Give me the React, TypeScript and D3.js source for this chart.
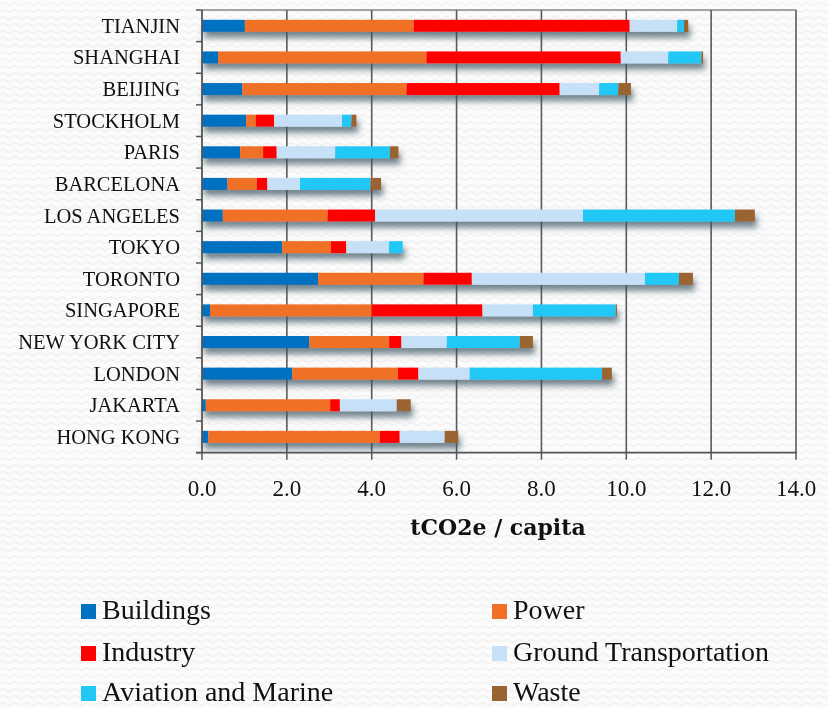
import React from 'react';
import * as d3 from 'd3';

const cities = ['TIANJIN', 'SHANGHAI', 'BEIJING', 'STOCKHOLM', 'PARIS', 'BARCELONA', 'LOS ANGELES', 'TOKYO', 'TORONTO', 'SINGAPORE', 'NEW YORK CITY', 'LONDON', 'JAKARTA', 'HONG KONG'];
const buildings = [1.01, 0.38, 0.95, 1.04, 0.90, 0.60, 0.49, 1.89, 2.74, 0.19, 2.53, 2.13, 0.09, 0.15];
const power = [3.98, 4.91, 3.87, 0.23, 0.54, 0.69, 2.47, 1.15, 2.48, 3.81, 1.88, 2.49, 2.93, 4.04];
const industry = [5.09, 4.58, 3.61, 0.43, 0.32, 0.25, 1.12, 0.36, 1.14, 2.61, 0.29, 0.48, 0.23, 0.47];
const groundTransport = [1.12, 1.12, 0.93, 1.60, 1.38, 0.77, 4.90, 1.01, 4.08, 1.19, 1.07, 1.21, 1.34, 1.06];
const aviationMarine = [0.16, 0.78, 0.45, 0.22, 1.29, 1.66, 3.58, 0.32, 0.80, 1.95, 1.72, 3.12, 0.0, 0.0];
const waste = [0.10, 0.04, 0.30, 0.12, 0.20, 0.25, 0.47, 0.0, 0.33, 0.03, 0.31, 0.23, 0.33, 0.32];

const seriesNames = ['Buildings', 'Power', 'Industry', 'Ground Transportation', 'Aviation and Marine', 'Waste'];
const seriesColors = ['#0070C0', '#F07028', '#FF0000', '#C6E0F7', '#22C8F5', '#9A6432'];
const xTicks = [0, 2, 4, 6, 8, 10, 12, 14];
const axisTitle = 'tCO2e / capita';

const FONT = "'Liberation Serif', 'DejaVu Serif', serif";
const FONT_WIDE = "'DejaVu Serif', 'Liberation Serif', serif";

export default function App() {
  const width = 828;
  const height = 708;
  const x = d3.scaleLinear().domain([0, 14]).range([202, 796]);
  const y = d3.scaleBand<string>().domain(cities).range([10, 452.7]).paddingInner(0.62).paddingOuter(0.31);
  const seriesArrays = [buildings, power, industry, groundTransport, aviationMarine, waste];
  const rows = cities.map((c, i) => {
    const r: Record<string, any> = { city: c };
    seriesNames.forEach((s, k) => { r[s] = seriesArrays[k][i]; });
    return r;
  });
  const stacked = d3.stack<any>().keys(seriesNames)(rows);
  const step = y.step();
  const [yTop, yBot] = [10, 452.7];

  const legendCols = [81, 492];
  const legendTextX = [102, 513];
  const legendRows = [619, 661, 701];

  return (
    <div style={{ position: 'fixed', left: 0, top: 0 }}>
      <svg width={width} height={height} style={{ display: 'block' }}>
        <defs>
          <pattern id="wave" width="12" height="7" patternUnits="userSpaceOnUse">
            <rect width="12" height="7" fill="#fbfbfb" />
            <path d="M0 4 Q3 1 6 4 T12 4" stroke="#ececec" strokeWidth="1" fill="none" />
          </pattern>
          <filter id="shadow" x="-5%" y="-50%" width="115%" height="280%">
            <feDropShadow dx="2" dy="6" stdDeviation="3" floodColor="#38525f" floodOpacity="0.7" />
          </filter>
        </defs>
        <rect width={width} height={height} fill="url(#wave)" />

        {/* frame */}
        <line x1={x(0)} x2={x(14)} y1={yTop} y2={yTop} stroke="#888" strokeWidth={1.5} />
        {/* gridlines */}
        {xTicks.slice(1).map(t => (
          <line key={t} x1={x(t)} x2={x(t)} y1={yTop} y2={yBot} stroke="#5a5a5a" strokeWidth={1.6} />
        ))}

        {/* bars */}
        <g filter="url(#shadow)">
          {stacked.map((s, k) => (
            <g key={s.key} fill={seriesColors[k]}>
              {s.map((d, i) => (
                d[1] - d[0] > 0 ? (
                  <rect key={i} x={x(d[0])} y={y(cities[i])!} width={x(d[1]) - x(d[0])} height={y.bandwidth()} />
                ) : null
              ))}
            </g>
          ))}
        </g>

        {/* left axis */}
        <line x1={x(0)} x2={x(0)} y1={yTop} y2={yBot} stroke="#555" strokeWidth={1.8} />
        {cities.map((c, i) => (
          <line key={'lt' + i} x1={x(0) - 6} x2={x(0)} y1={yTop + step * i} y2={yTop + step * i} stroke="#555" strokeWidth={1.5} />
        ))}
        <line x1={x(0) - 6} x2={x(0)} y1={yBot} y2={yBot} stroke="#555" strokeWidth={1.5} />
        {cities.map(c => (
          <text key={c} x={180} y={y(c)! + y.bandwidth() / 2 + 7} textAnchor="end"
            fontFamily={FONT} fontSize={20.5} fill="#111">{c}</text>
        ))}

        {/* bottom axis */}
        <line x1={x(0) - 6} x2={x(14) + 1} y1={yBot} y2={yBot} stroke="#555" strokeWidth={1.8} />
        {xTicks.map(t => (
          <line key={'bt' + t} x1={x(t)} x2={x(t)} y1={yBot} y2={yBot + 7} stroke="#555" strokeWidth={1.5} />
        ))}
        {xTicks.map(t => (
          <text key={'bl' + t} x={x(t)} y={496} textAnchor="middle" fontFamily={FONT} fontSize={23} fill="#111">
            {d3.format('.1f')(t)}
          </text>
        ))}
        <text x={498} y={535} textAnchor="middle" fontFamily={FONT_WIDE} fontSize={22} fontWeight="bold" fill="#111">
          {axisTitle}
        </text>

        {/* legend */}
        {seriesNames.map((s, k) => {
          const col = k % 2;
          const cy = legendRows[Math.floor(k / 2)];
          return (
            <g key={s}>
              <rect x={legendCols[col]} y={cy - 15} width={15} height={15} fill={seriesColors[k]} />
              <text x={legendTextX[col]} y={cy} fontFamily={FONT} fontSize={28} fill="#111">{s}</text>
            </g>
          );
        })}
      </svg>
    </div>
  );
}
